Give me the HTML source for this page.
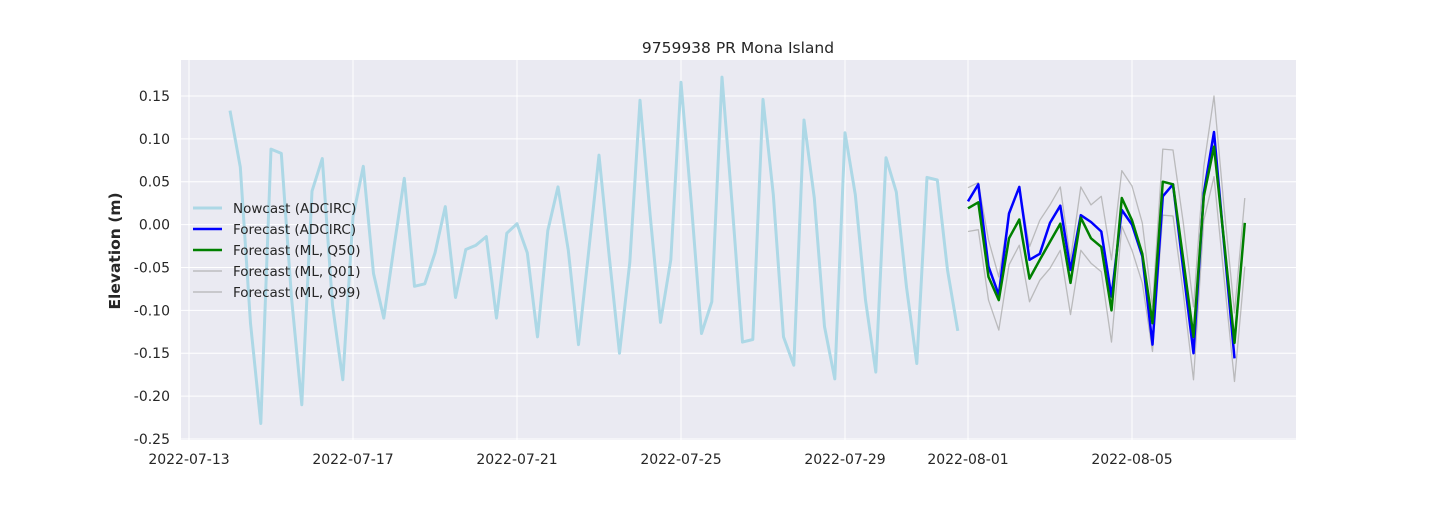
<!DOCTYPE html>
<html><head><meta charset="utf-8">
<style>
body{margin:0;background:#fff;}
svg text{font-family:"DejaVu Sans","Liberation Sans",sans-serif;fill:#262626;}
</style></head>
<body>
<svg id="chart" width="1440" height="504" xmlns="http://www.w3.org/2000/svg"></svg>
<script>
const tickDays=[0,4,8,12,16,19,23];
const tickLabels=["2022-07-13","2022-07-17","2022-07-21","2022-07-25","2022-07-29","2022-08-01","2022-08-05"];
const yTicks=[0.15,0.10,0.05,0.00,-0.05,-0.10,-0.15,-0.20,-0.25];
const nowcastStart=1, forecastStart=19, step=0.25;
const nowcast=[0.133,0.067,-0.115,-0.232,0.088,0.083,-0.085,-0.21,0.039,0.077,-0.094,-0.181,0.009,0.068,-0.057,-0.109,-0.026,0.054,-0.072,-0.069,-0.033,0.021,-0.085,-0.029,-0.024,-0.014,-0.109,-0.010,0.001,-0.033,-0.131,-0.007,0.044,-0.030,-0.140,-0.03,0.081,-0.038,-0.150,-0.044,0.145,0.009,-0.114,-0.041,0.166,0.025,-0.127,-0.090,0.172,0.021,-0.137,-0.134,0.146,0.035,-0.131,-0.164,0.122,0.031,-0.119,-0.180,0.107,0.035,-0.088,-0.172,0.078,0.038,-0.073,-0.162,0.055,0.052,-0.053,-0.124];
const fcAdcirc=[0.027,0.047,-0.049,-0.082,0.013,0.044,-0.041,-0.034,0.002,0.022,-0.053,0.011,0.003,-0.008,-0.084,0.017,0.000,-0.037,-0.140,0.033,0.047,-0.053,-0.150,0.037,0.108,-0.026,-0.156];
const fcQ50=[0.019,0.026,-0.061,-0.088,-0.016,0.006,-0.063,-0.041,-0.020,0.001,-0.068,0.008,-0.016,-0.026,-0.100,0.031,0.005,-0.034,-0.115,0.050,0.047,-0.041,-0.131,0.033,0.091,-0.022,-0.138,0.002];
const fcQ01=[-0.008,-0.006,-0.088,-0.123,-0.047,-0.024,-0.090,-0.065,-0.051,-0.030,-0.105,-0.030,-0.045,-0.055,-0.137,-0.002,-0.030,-0.068,-0.148,0.011,0.010,-0.080,-0.181,0.005,0.056,-0.065,-0.183,-0.049];
const fcQ99=[0.043,0.049,-0.018,-0.061,0.013,0.044,-0.026,0.005,0.023,0.044,-0.041,0.044,0.023,0.033,-0.041,0.063,0.045,0.002,-0.096,0.088,0.087,0.002,-0.096,0.068,0.150,0.017,-0.103,0.031];

const NS="http://www.w3.org/2000/svg";
const svg=document.getElementById('chart');
const L=181,R=1296,T=60,B=440;
const xS=d=>189+41*d;
const yS=v=>224.6-v*857.5;
function el(tag,attrs,parent){const e=document.createElementNS(NS,tag);for(const k in attrs)e.setAttribute(k,attrs[k]);(parent||svg).appendChild(e);return e;}

const bg=el('rect',{x:L,y:T,width:R-L,height:B-T,fill:'#eaeaf2'});


tickDays.forEach((d,i)=>{
  const g=el('line',{x1:xS(d),x2:xS(d),y1:T,y2:B,stroke:'#fff','stroke-width':1});
  
  
  const t=el('text',{x:xS(d),y:464,'text-anchor':'middle','font-size':14});
  t.textContent=tickLabels[i];
  
  
});
yTicks.forEach(v=>{
  const g=el('line',{x1:L,x2:R,y1:yS(v),y2:yS(v),stroke:'#fff','stroke-width':1});
  
  
  const t=el('text',{x:170,y:yS(v)+5,'text-anchor':'end','font-size':14});
  t.textContent=v.toFixed(2);
  
  
});
function series(arr,start,color,w,name,op){
  const pts=arr.map((v,i)=>xS(start+i*step).toFixed(1)+','+yS(v).toFixed(1)).join(' ');
  const p=el('polyline',{points:pts,fill:'none',stroke:color,'stroke-width':w,'stroke-linejoin':'round','stroke-opacity':op||1});
  
  
}
series(nowcast,nowcastStart,'#add8e6',3,'nowcast-line');
series(fcQ01,forecastStart,'#a9a9a9',1.3,'forecast-q01-line',0.75);
series(fcQ99,forecastStart,'#a9a9a9',1.3,'forecast-q99-line',0.75);
series(fcAdcirc,forecastStart,'#0000ff',2.5,'forecast-adcirc-line');
series(fcQ50,forecastStart,'#008000',2.5,'forecast-q50-line');

const legend=[["Nowcast (ADCIRC)","#add8e6",3],["Forecast (ADCIRC)","#0000ff",2.5],["Forecast (ML, Q50)","#008000",2.5],["Forecast (ML, Q01)","#bdbdc0",1.5],["Forecast (ML, Q99)","#bdbdc0",1.5]];
const lg=el('g',{});


legend.forEach((e,i)=>{
  const y=208+i*21;
  const l=el('line',{x1:193,x2:222,y1:y,y2:y,stroke:e[1],'stroke-width':e[2]},lg);
  
  
  const t=el('text',{x:233,y:y+5,'font-size':13.5},lg);
  t.textContent=e[0];
  
  
});
const title=el('text',{x:738,y:53,'text-anchor':'middle','font-size':15.5});
title.textContent='9759938 PR Mona Island';


const yl=el('text',{x:0,y:0,'text-anchor':'middle','font-size':15.5,'font-weight':'bold',transform:'translate(120,251) rotate(-90)'});
yl.textContent='Elevation (m)';


</script>
</body></html>
